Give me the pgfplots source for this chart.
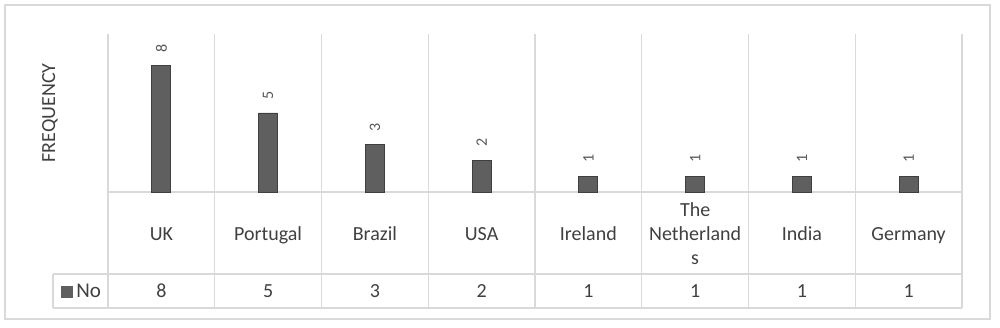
\documentclass[border=0pt]{standalone}
\usepackage{pgfplots}
\pgfplotsset{compat=1.18}
\usepackage{fontspec}
\setmainfont{Carlito}
\definecolor{gridc}{HTML}{D9D9D9}
\definecolor{barc}{HTML}{5F5F5F}
\definecolor{bard}{HTML}{3F3F3F}
\definecolor{txt}{HTML}{404040}
\definecolor{lbl}{HTML}{595959}
\begin{document}
\begin{tikzpicture}
\begin{scope}[x=0.5pt,y=-0.5pt,yshift=163.5pt]
\path[use as bounding box] (0,0) rectangle (1000,327);
\draw[gridc, line width=0.7pt] (5,5) rectangle (990,319);
\foreach \i in {0,...,8} { \draw[gridc, line width=0.7pt] ({108+\i*106.75},34) -- ({108+\i*106.75},308); }
\draw[gridc, line width=0.7pt] (108,192) -- (962,192);
\draw[gridc, line width=0.7pt] (53,274) -- (962,274);
\draw[gridc, line width=0.7pt] (53,308) -- (962,308);
\draw[gridc, line width=0.7pt] (53,274) -- (53,308);
\node[anchor=west, text=txt, font=\fontsize{10.5}{12}\selectfont, inner sep=0pt] at (61,291) {\textcolor{barc}{\rule{6pt}{6pt}}\hspace{1.5pt}No};
\end{scope}
\begin{axis}[
  at={(54pt,67.5pt)}, anchor=south west,
  scale only axis, width=427pt, height=79pt,
  xmin=0.5, xmax=8.5, ymin=0, ymax=10,
  clip=false,
  axis line style={draw=none}, tick style={draw=none},
  ytick=\empty,
  xtick={1,...,8},
  xticklabels={\strut UK,\strut Portugal,\strut Brazil,\strut USA,\strut Ireland,{\strut The\\\strut Netherland\\\strut s},\strut India,\strut Germany},
  xticklabel style={align=center, anchor=center, inner sep=0pt, yshift=-22pt, text=txt, font=\fontsize{10}{12}\selectfont},
  ylabel={FREQUENCY},
  every axis y label/.style={at={(axis description cs:-0.0679,0.5)}, rotate=90, anchor=center, text=txt, font=\fontsize{10}{12}\selectfont},
  /pgf/number format/assume math mode=true,
]
\addplot[ybar, bar width=9.5pt, bar shift=0pt, fill=barc, draw=bard, line width=0.4pt,
  nodes near coords,
  every node near coord/.append style={rotate=90, anchor=west, inner xsep=6.5pt, inner ysep=0pt, text=lbl, font=\fontsize{8}{9}\selectfont}]
  coordinates {(1,8) (2,5) (3,3) (4,2) (5,1) (6,1) (7,1) (8,1)};
\addplot[draw=none, mark=none, forget plot,
  nodes near coords, point meta=explicit,
  every node near coord/.style={anchor=center, text=txt, font=\fontsize{10}{12}\selectfont}]
  table[meta=v] {
x y v
1 -6.27 8
2 -6.27 5
3 -6.27 3
4 -6.27 2
5 -6.27 1
6 -6.27 1
7 -6.27 1
8 -6.27 1
};
\end{axis}
\end{tikzpicture}
\end{document}
